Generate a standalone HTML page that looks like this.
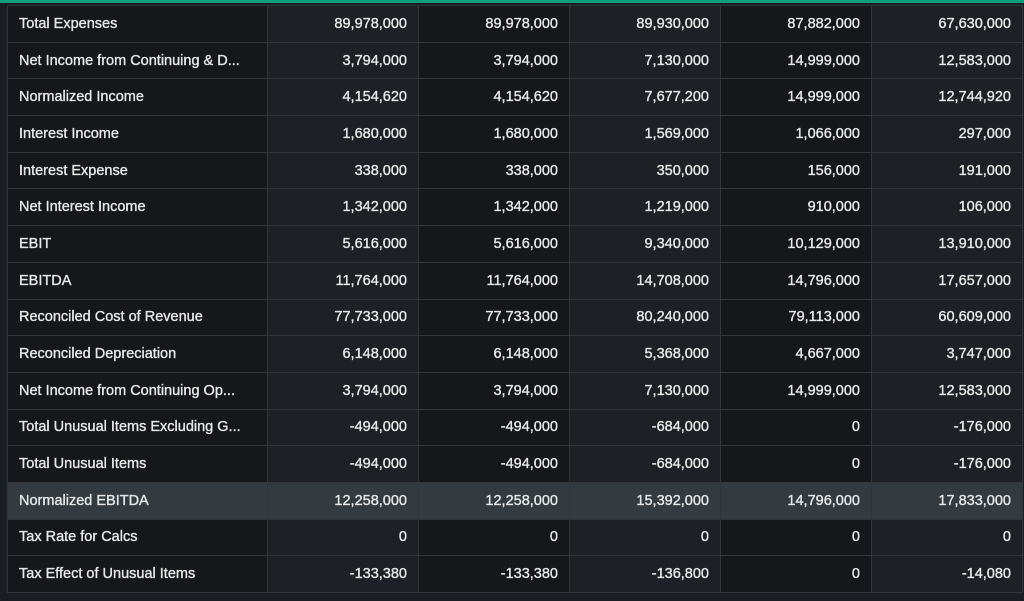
<!DOCTYPE html>
<html><head><meta charset="utf-8"><style>
body{margin:0;width:1024px;height:601px;background:#1a1d22;overflow:hidden;font-family:"Liberation Sans",sans-serif;}
#topline{position:absolute;left:0;top:0;width:1024px;height:3px;background:#129e7a;}
table{position:absolute;left:7px;top:5px;border-collapse:collapse;table-layout:fixed;}
td{height:35.7px;border:1px solid #31363b;font-size:14.5px;color:#e8e8e8;padding:0 11px 0 10px;white-space:nowrap;overflow:hidden;-webkit-text-stroke:0.35px #e8e8e8;box-sizing:content-box;}
td.l{width:237px;background:#15171b;text-align:left;padding-left:11px;}
td.n{width:129px;text-align:right;}
td.o{background:#1d2126;}
td.e{background:#15171b;}
tr.hl td{background:#333b40;}
</style></head><body>
<div id="topline"></div>
<table><tbody id="tb"></tbody></table>
<script>
const rowLabels=["Total Expenses","Net Income from Continuing & D...","Normalized Income","Interest Income","Interest Expense","Net Interest Income","EBIT","EBITDA","Reconciled Cost of Revenue","Reconciled Depreciation","Net Income from Continuing Op...","Total Unusual Items Excluding G...","Total Unusual Items","Normalized EBITDA","Tax Rate for Calcs","Tax Effect of Unusual Items"];
const rowValues=[
["89,978,000","89,978,000","89,930,000","87,882,000","67,630,000"],
["3,794,000","3,794,000","7,130,000","14,999,000","12,583,000"],
["4,154,620","4,154,620","7,677,200","14,999,000","12,744,920"],
["1,680,000","1,680,000","1,569,000","1,066,000","297,000"],
["338,000","338,000","350,000","156,000","191,000"],
["1,342,000","1,342,000","1,219,000","910,000","106,000"],
["5,616,000","5,616,000","9,340,000","10,129,000","13,910,000"],
["11,764,000","11,764,000","14,708,000","14,796,000","17,657,000"],
["77,733,000","77,733,000","80,240,000","79,113,000","60,609,000"],
["6,148,000","6,148,000","5,368,000","4,667,000","3,747,000"],
["3,794,000","3,794,000","7,130,000","14,999,000","12,583,000"],
["-494,000","-494,000","-684,000","0","-176,000"],
["-494,000","-494,000","-684,000","0","-176,000"],
["12,258,000","12,258,000","15,392,000","14,796,000","17,833,000"],
["0","0","0","0","0"],
["-133,380","-133,380","-136,800","0","-14,080"]];
const tb=document.getElementById('tb');
rowLabels.forEach((lab,i)=>{
  const tr=document.createElement('tr');
  
  
  if(i===13)tr.className='hl';
  const td=document.createElement('td');td.className='l';td.textContent=lab;
  
  
  tr.appendChild(td);
  rowValues[i].forEach((v,j)=>{
    const c=document.createElement('td');c.className='n '+(j%2===0?'o':'e');c.textContent=v;
    
    
    tr.appendChild(c);
  });
  tb.appendChild(tr);
});
</script>
</body></html>
